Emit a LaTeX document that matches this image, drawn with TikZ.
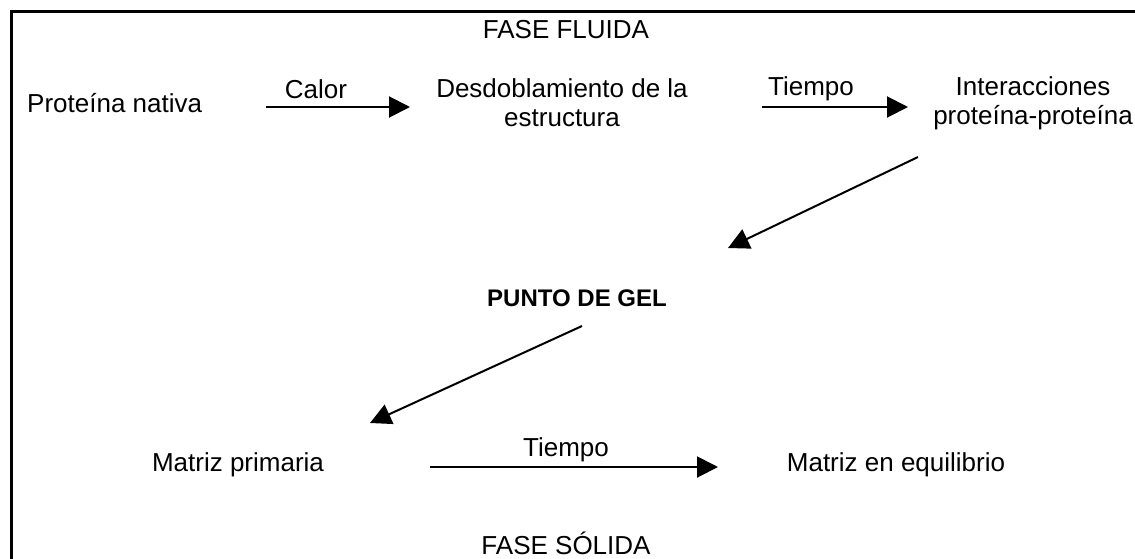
\documentclass[tikz,border=0pt]{standalone}
\usepackage{fontspec}
\setmainfont{Liberation Sans}
\usetikzlibrary{arrows.meta}
\tikzset{
  txt/.style={inner sep=0pt, font=\fontsize{26}{29}\selectfont, align=center},
  btxt/.style={inner sep=0pt, font=\fontsize{24}{29}\selectfont\bfseries, align=center},
  arr/.style={line width=2pt, -{Triangle[length=21pt, width=21pt]}},
  frame/.style={line width=3pt}
}
\begin{document}
\begin{tikzpicture}[x=1pt, y=-1pt]
\useasboundingbox (0,0) rectangle (1135,558);
\draw[frame] (11.5,1000) -- (11.5,11.5) -- (1200,11.5);
\node[txt] (ff) at (566,30) {FASE FLUIDA};
\node[txt, anchor=west] (pn) at (27,103) {Proteína nativa};
\node[txt] (des) at (562,103) {Desdoblamiento de la\\estructura};
\node[txt] (inter) at (1033,103) {Interacciones\\proteína-proteína};
\node[txt] (calor) at (316,89) {Calor};
\node[txt] (t1) at (811,89) {Tiempo};
\node[btxt] (punto) at (577,298) {PUNTO DE GEL};
\node[txt] (mp) at (238,465) {Matriz primaria};
\node[txt] (t2) at (566,450) {Tiempo};
\node[txt] (me) at (896,465) {Matriz en equilibrio};
\node[txt, anchor=base] (fs) at (566,554) {FASE SÓLIDA};
\draw[arr] ([shift={(239,4)}]pn.west) -- ([shift={(-152,4)}]des.center);
\draw[arr] ([shift={(200,4)}]des.center) -- ([shift={(-125,4)}]inter.center);
\draw[arr] ([shift={(-115,54)}]inter.center) -- ([shift={(151,-50)}]punto.center);
\draw[arr] ([shift={(5,28)}]punto.center) -- ([shift={(132,-42)}]mp.center);
\draw[arr] ([shift={(192,2)}]mp.center) -- ([shift={(-178,2)}]me.center);
\end{tikzpicture}
\end{document}
